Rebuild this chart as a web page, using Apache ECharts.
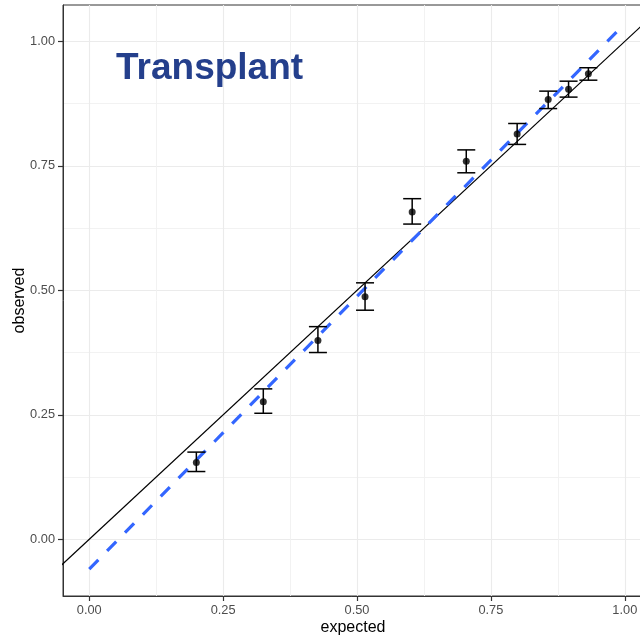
<!DOCTYPE html>
<html>
<head>
<meta charset="utf-8">
<script src="https://cdn.jsdelivr.net/npm/echarts@6/dist/echarts.min.js"></script>
<style>
  html, body { margin: 0; padding: 0; background: #ffffff; overflow: hidden; }
  #chart { width: 640px; height: 637px; }
</style>
</head>
<body>
<div id="chart"></div>
<script>
// Calibration groups: mean expected probability vs observed proportion with 95% interval
const expected = [0.200, 0.325, 0.427, 0.515, 0.603, 0.704, 0.799, 0.857, 0.895, 0.932];
const observed = [0.154, 0.276, 0.399, 0.487, 0.657, 0.759, 0.814, 0.883, 0.904, 0.935];
const lower    = [0.136, 0.253, 0.375, 0.460, 0.633, 0.736, 0.793, 0.865, 0.888, 0.922];
const upper    = [0.175, 0.302, 0.427, 0.515, 0.684, 0.782, 0.835, 0.900, 0.920, 0.947];

// Fitted calibration line (end points) and the line of perfect agreement
const fitLine = [[0, -0.060], [0.985, 1.019]];
const identityLine = [[-0.2, -0.2], [1.2, 1.2]];

// Axis breaks and ranges
const tickValues = [0, 0.25, 0.5, 0.75, 1];
const minorValues = [0.125, 0.375, 0.625, 0.875];
const xRange = [-0.049, 1.034];
const yRange = [-0.114, 1.073];

const FONT = '"Liberation Sans", Arial, Helvetica, sans-serif';
const fmt = v => v.toFixed(2);

function mainAxis(range, isX) {
  return {
    type: 'value',
    position: isX ? 'bottom' : 'left',
    min: range[0],
    max: range[1],
    name: isX ? 'expected' : 'observed',
    nameLocation: 'middle',
    nameMoveOverlap: false,
    nameGap: isX ? 24 : 35.5,
    nameTextStyle: { color: '#000000', fontSize: 16, fontFamily: FONT },
    axisLine: { show: true, onZero: false, lineStyle: { color: '#333333', width: 1 } },
    axisTick: {
      show: true, inside: false, length: 5, customValues: tickValues,
      lineStyle: { color: '#333333', width: 1.2 }
    },
    axisLabel: {
      show: true, customValues: tickValues, formatter: fmt, margin: 8,
      color: '#4D4D4D', fontSize: 12.8, fontFamily: FONT
    },
    splitLine: { show: true, lineStyle: { color: '#EBEBEB', width: 1.1 } }
  };
}

function minorAxis(range, isX) {
  return {
    type: 'value',
    position: isX ? 'bottom' : 'left',
    min: range[0],
    max: range[1],
    axisLine: { show: false, onZero: false },
    axisTick: { show: false, customValues: minorValues },
    axisLabel: { show: false },
    splitLine: { show: true, lineStyle: { color: '#F1F1F1', width: 0.9 } }
  };
}

const chart = echarts.init(document.getElementById('chart'), null, { renderer: 'canvas' });

chart.setOption({
  animation: false,
  backgroundColor: '#ffffff',
  title: {
    text: 'Transplant',
    left: 116,
    top: 50,
    padding: 0,
    textStyle: { color: '#243F8C', fontSize: 37, fontWeight: 'bold', fontFamily: FONT }
  },
  grid: {
    left: 63, top: 5, right: -3, bottom: 41,
    outerBoundsMode: 'none',
    containLabel: false,
    show: true, backgroundColor: 'transparent',
    borderColor: '#333333', borderWidth: 1
  },
  xAxis: [mainAxis(xRange, true), minorAxis(xRange, true)],
  yAxis: [mainAxis(yRange, false), minorAxis(yRange, false)],
  series: [
    {
      type: 'line',
      data: identityLine,
      clip: true,
      symbol: 'none',
      lineStyle: { color: '#000000', width: 1.2 },
      z: 3
    },
    {
      type: 'line',
      data: fitLine,
      clip: true,
      symbol: 'none',
      lineStyle: { color: '#3366FF', width: 3.2, type: [13, 12.5], cap: 'butt' },
      z: 4
    },
    {
      type: 'custom',
      data: expected.map((x, i) => [x, lower[i], upper[i]]),
      encode: { x: 0, y: [1, 2] },
      z: 5,
      renderItem: function (params, api) {
        const x = api.value(0);
        const lo = api.coord([x, api.value(1)]);
        const hi = api.coord([x, api.value(2)]);
        const hw = 9;
        const style = { stroke: '#000000', lineWidth: 1.5 };
        return {
          type: 'group',
          children: [
            { type: 'line', shape: { x1: lo[0], y1: lo[1], x2: hi[0], y2: hi[1] }, style: style },
            { type: 'line', shape: { x1: lo[0] - hw, y1: lo[1], x2: lo[0] + hw, y2: lo[1] }, style: style },
            { type: 'line', shape: { x1: hi[0] - hw, y1: hi[1], x2: hi[0] + hw, y2: hi[1] }, style: style }
          ]
        };
      }
    },
    {
      type: 'scatter',
      data: expected.map((x, i) => [x, observed[i]]),
      symbol: 'circle',
      symbolSize: 7,
      itemStyle: { color: '#000000' },
      z: 6
    }
  ]
});
</script>
</body>
</html>
